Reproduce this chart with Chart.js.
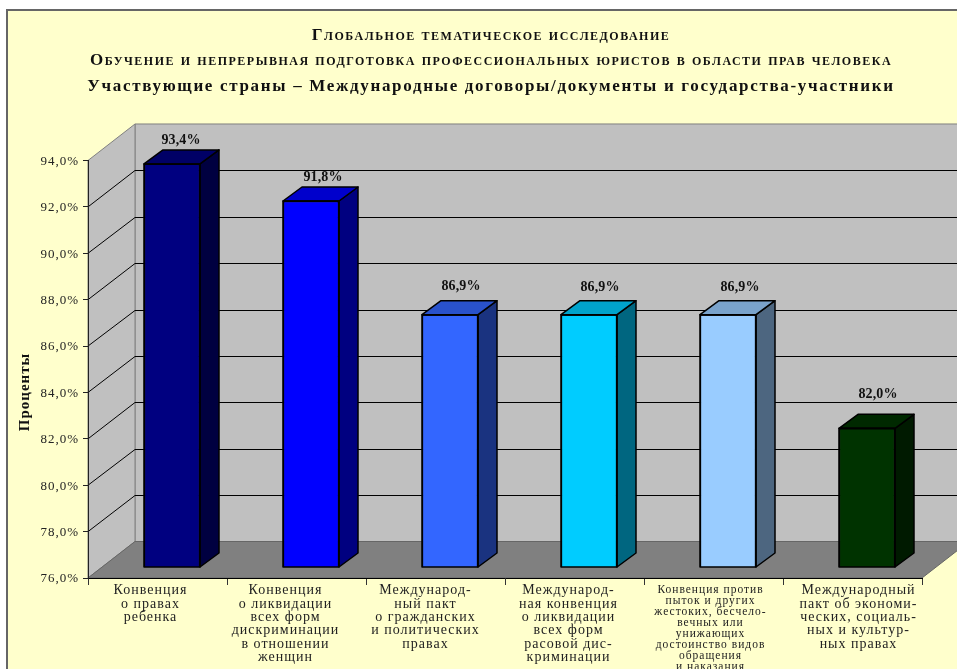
<!DOCTYPE html>
<html lang="ru">
<head>
<meta charset="utf-8">
<title>Участвующие страны</title>
<script src="https://cdn.jsdelivr.net/npm/chart.js@4"></script>
<style>
html,body{margin:0;padding:0;background:#fff;overflow:hidden}
#clip{width:957px;height:669px;overflow:hidden;position:relative}
canvas{display:block}
</style>
</head>
<body>
<div id="clip"><canvas id="c" width="983" height="700"></canvas></div>
<script>
const titleLines = ['Глобальное тематическое исследование','Обучение и непрерывная подготовка профессиональных юристов в области прав человека'];
const subtitleLine = 'Участвующие страны – Международные договоры/документы и государства-участники';
const yAxisTitle = 'Проценты';
const categories = [
  ['Конвенция','о правах','ребенка'],
  ['Конвенция','о ликвидации','всех форм','дискриминации','в отношении','женщин'],
  ['Международ-','ный пакт','о гражданских','и политических','правах'],
  ['Международ-','ная конвенция','о ликвидации','всех форм','расовой дис-','криминации'],
  ['Конвенция против','пыток и других','жестоких, бесчело-','вечных или','унижающих','достоинство видов','обращения','и наказания'],
  ['Международный','пакт об экономи-','ческих, социаль-','ных и культур-','ных правах']
];
const values = [93.4, 91.8, 86.9, 86.9, 86.9, 82.0];
const frontColors = ['#000080','#0000FF','#3366FF','#00CCFF','#99CCFF','#003300'];
const sideColors  = ['#000040','#000080','#1A3380','#006680','#4D6680','#001A00'];
const topColors   = ['#000066','#0000CC','#2952CC','#00A3CC','#7AA3CC','#002900'];
const labelNudgeX = [9, 12, 11, 11, 12, 11];
const labelGapY   = [24, 23.5, 28, 27, 27, 33.5];
const tickNudgeX  = [-7, -11, -10, -6, -3, 6];
const yMin = 76, yMax = 94, yStep = 2;

const WALL_DX = 47, WALL_DY = 36.5, BAR_DX = 14.5, BAR_DY = 10.5, SIDE_DX = 19, SIDE_DY = 14;
const TITLE_SHIFT = 30;
const serif = '"Liberation Serif","Times New Roman",serif';
const fmt = v => v.toFixed(1).replace('.', ',') + '%';

function poly(ctx, pts, fill, stroke, lw){
  ctx.beginPath();
  pts.forEach((p,i)=> i ? ctx.lineTo(p[0],p[1]) : ctx.moveTo(p[0],p[1]));
  ctx.closePath();
  if(fill){ctx.fillStyle=fill;ctx.fill();}
  if(stroke){ctx.strokeStyle=stroke;ctx.lineWidth=lw||1;ctx.stroke();}
}

function styleHeading(box, ctx, spacing){
  if(box._wrapped) return;
  box._wrapped = true;
  const draw = box.draw;
  box.draw = function(){
    ctx.save();
    ctx.translate(TITLE_SHIFT,0);
    ctx.letterSpacing = spacing;
    draw.call(box);
    ctx.restore();
  };
}

const scene3d = {
  id:'scene3d',
  beforeDraw(chart){
    const ctx = chart.ctx, {left:l,right:r,top:t,bottom:b} = chart.chartArea, ys = chart.scales.y;
    ctx.letterSpacing = '1px';
    chart.boxes.forEach(box=>{
      if(box.options && box.options.text===subtitleLine) styleHeading(box,ctx,'1.68px');
      else if(box.options && Array.isArray(box.options.text)) styleHeading(box,ctx,'1.5px');
    });
    chart.scales.x.getLabelItems(chart.chartArea).forEach((it,i)=>{
      if(!it._n){it._n=1; it.options.translation[0]+=tickNudgeX[i];}
    });
    ys.getLabelItems(chart.chartArea).forEach(it=>{
      if(!it._n){it._n=1; it.options.translation[1]+=1;}
    });
    ctx.save();
    ctx.fillStyle='#fff';ctx.fillRect(0,0,chart.width,chart.height);
    ctx.fillStyle='#FFFFCC';ctx.strokeStyle='#666';ctx.lineWidth=2;
    ctx.fillRect(7,10,chart.width-14,chart.height-20);
    ctx.strokeRect(7,10,chart.width-14,chart.height-20);
    const d=WALL_DX, h=WALL_DY;
    poly(ctx,[[l+d,t-h],[r+d,t-h],[r+d,b-h],[l+d,b-h]],'#C0C0C0','#808080');
    poly(ctx,[[l,b],[l,t],[l+d,t-h],[l+d,b-h]],'#C0C0C0','#808080');
    poly(ctx,[[l,b],[r,b],[r+d,b-h],[l+d,b-h]],'#808080','#666');
    ctx.strokeStyle='#000';ctx.lineWidth=1;
    ys.ticks.forEach(tk=>{
      if(tk.value===yMin||tk.value===yMax) return;
      const y=ys.getPixelForValue(tk.value), by=Math.round(y-h)+0.5;
      ctx.beginPath();ctx.moveTo(l,y);ctx.lineTo(l+d,by);ctx.lineTo(r+d,by);ctx.stroke();
    });
    ctx.restore();
  },
  beforeDatasetDraw(chart){
    chart.ctx.save();
    chart.ctx.translate(BAR_DX,-BAR_DY);
  },
  afterDatasetDraw(chart,args){
    const ctx=chart.ctx;
    args.meta.data.forEach((bar,i)=>{
      const p=bar.getProps(['x','y','base','width'],true);
      const x0=p.x-p.width/2, x1=p.x+p.width/2;
      ctx.lineJoin='round';
      poly(ctx,[[x1,p.y],[x1+SIDE_DX,p.y-SIDE_DY],[x1+SIDE_DX,p.base-SIDE_DY],[x1,p.base]],sideColors[i],'#000',1.5);
      poly(ctx,[[x0,p.y],[x0+SIDE_DX,p.y-SIDE_DY],[x1+SIDE_DX,p.y-SIDE_DY],[x1,p.y]],topColors[i],'#000',1.5);
      ctx.strokeStyle='#000';ctx.lineWidth=1.5;
      ctx.strokeRect(x0,p.y,p.width,p.base-p.y);
    });
    ctx.restore();
  },
  afterDatasetsDraw(chart){
    const ctx=chart.ctx, meta=chart.getDatasetMeta(0);
    ctx.save();
    ctx.font='bold 14px '+serif;ctx.fillStyle='#111';ctx.textAlign='center';ctx.textBaseline='middle';
    ctx.letterSpacing='0.1px';
    meta.data.forEach((bar,i)=>{
      ctx.fillText(fmt(values[i]), bar.x+BAR_DX+labelNudgeX[i], bar.y-BAR_DY-labelGapY[i]);
    });
    ctx.font='bold 15px '+serif;ctx.letterSpacing='1px';
    ctx.translate(25,392);ctx.rotate(-Math.PI/2);
    ctx.fillText(yAxisTitle,0,0);
    ctx.restore();
  }
};

new Chart(document.getElementById('c'),{
  type:'bar',
  data:{labels:categories,datasets:[{
    data:values,base:yMin,backgroundColor:frontColors,borderColor:'#000',borderWidth:1.5,
    barThickness:56,clip:false
  }]},
  options:{
    responsive:false,animation:false,devicePixelRatio:1,
    layout:{padding:{left:0,right:61,top:23,bottom:0}},
    plugins:{
      legend:{display:false},tooltip:{enabled:false},
      title:{display:true,text:titleLines,color:'#111',
        font:{family:serif,weight:'small-caps bold',size:17,lineHeight:1.482},padding:{top:0,bottom:0}},
      subtitle:{display:true,text:subtitleLine,color:'#111',
        font:{family:serif,weight:'bold',size:17,lineHeight:1.5},padding:{top:0,bottom:61.6}}
    },
    scales:{
      x:{
        afterFit(s){s.height=122;},
        border:{color:'#000',width:1},
        grid:{drawOnChartArea:false,color:'#333',tickLength:7,offset:true},
        ticks:{autoSkip:false,maxRotation:0,minRotation:0,color:'#222',padding:-1,
          font:c=>c.index===4?{family:serif,size:11.5,lineHeight:0.96}:{family:serif,size:14,lineHeight:0.95}}
      },
      y:{
        min:yMin,max:yMax,
        afterFit(s){s.width=88;},
        border:{color:'#222',width:1},
        grid:{drawOnChartArea:false,color:'#222',tickLength:5},
        ticks:{stepSize:yStep,color:'#222',padding:4,font:{family:serif,size:13},callback:v=>fmt(v)}
      }
    }
  },
  plugins:[scene3d]
});
</script>
</body>
</html>
